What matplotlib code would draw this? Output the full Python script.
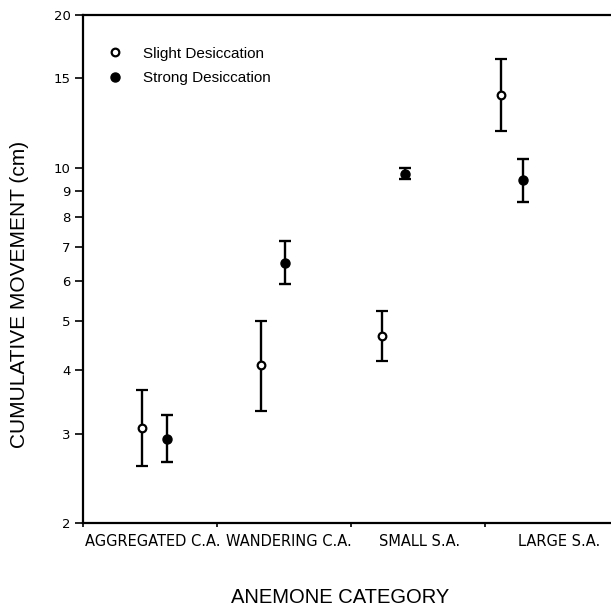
import matplotlib
matplotlib.use('Agg')
import matplotlib.pyplot as plt
from matplotlib.lines import Line2D
import numpy as np

# data
categories = ['AGGREGATED C.A.', 'WANDERING C.A.', 'SMALL S.A.', 'LARGE S.A.']
slight_x = [0.44, 1.33, 2.23, 3.12]
slight_mean = [3.08, 4.09, 4.67, 13.9]
slight_hi = [3.65, 5.00, 5.23, 16.4]
slight_lo = [2.59, 3.33, 4.17, 11.8]
strong_x = [0.63, 1.51, 2.40, 3.28]
strong_mean = [2.93, 6.50, 9.73, 9.47]
strong_hi = [3.26, 7.18, 9.98, 10.4]
strong_lo = [2.64, 5.91, 9.50, 8.56]
yticks = [2, 3, 4, 5, 6, 7, 8, 9, 10, 15, 20]

fig = plt.figure(figsize=(6.11, 6.07), dpi=100)
ax = fig.add_axes([83/611, 84/607, 536/611, 508/607])

def err(m, lo, hi):
    m = np.array(m); return [m - np.array(lo), np.array(hi) - m]

ax.errorbar(slight_x, slight_mean, yerr=err(slight_mean, slight_lo, slight_hi), fmt='o',
            mfc='white', mec='black', mew=1.6, ms=5.5, ecolor='black', elinewidth=1.7,
            capsize=4, capthick=1.7)
ax.errorbar(strong_x, strong_mean, yerr=err(strong_mean, strong_lo, strong_hi), fmt='o',
            mfc='black', mec='black', ms=6.5, ecolor='black', elinewidth=1.7,
            capsize=4, capthick=1.7)

ax.set_yscale('log')
ax.set_ylim(2, 20)
ax.set_xlim(0, 4)
ax.yaxis.set_major_locator(matplotlib.ticker.FixedLocator(yticks))
ax.yaxis.set_minor_locator(matplotlib.ticker.NullLocator())
ax.set_yticklabels([str(t) for t in yticks], fontsize=9.5)

ax.set_xticks([0, 1, 2, 3])
ax.set_xticklabels([])
ax.set_xticks([0.52, 1.54, 2.51, 3.55], minor=True)
ax.set_xticklabels(categories, minor=True, fontsize=10.5, family='DejaVu Sans')
ax.tick_params(axis='x', which='minor', length=0, pad=8)
ax.tick_params(axis='x', which='major', direction='out', length=3, width=1.2)
ax.tick_params(axis='y', direction='out', length=6, width=1.2, pad=3)

for s in ['left', 'bottom', 'top']:
    ax.spines[s].set_linewidth(1.6)
ax.spines['right'].set_visible(False)

ax.set_ylabel('CUMULATIVE MOVEMENT (cm)', fontsize=15, family='Liberation Sans')
ax.yaxis.set_label_coords(-0.10, 0.45)
ax.set_xlabel('ANEMONE CATEGORY', fontsize=14.5, family='Liberation Sans')
ax.xaxis.set_label_coords(0.48, -0.128)

handles = [Line2D([], [], ls='none', marker='o', mfc='white', mec='black', mew=1.6, ms=5.5),
           Line2D([], [], ls='none', marker='o', mfc='black', mec='black', ms=6.5)]
ax.legend(handles, ['Slight Desiccation', 'Strong Desiccation'], loc='upper left',
          frameon=False, handlelength=1.0, handletextpad=1.3,
          prop={'family': 'Liberation Sans', 'size': 11}, bbox_to_anchor=(0.02, 0.965),
          labelspacing=0.7)

fig.savefig('out.png', dpi=100)
